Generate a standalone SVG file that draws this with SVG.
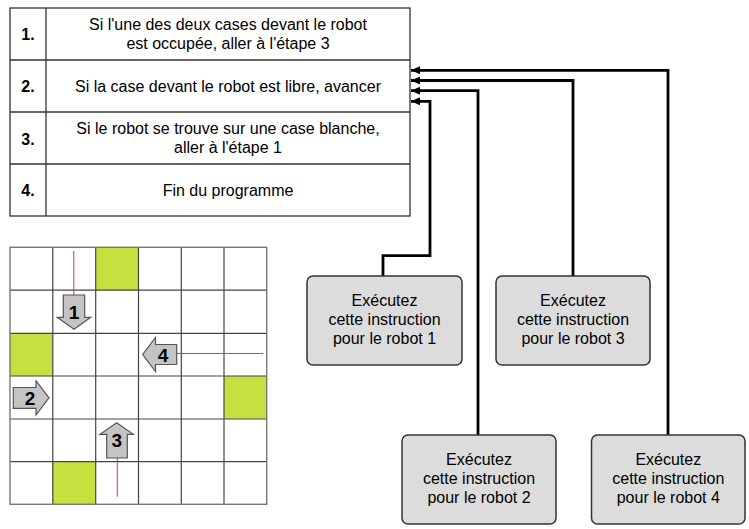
<svg xmlns="http://www.w3.org/2000/svg" width="749" height="529" viewBox="0 0 749 529">
<defs>
<style>
text{font-family:"Liberation Sans",Arial,sans-serif;font-size:16px;fill:#000}
.c{text-anchor:middle}
.b{font-weight:bold}
.tbl{fill:#fff;stroke:#333;stroke-width:1.3}
.box{fill:#dcdcdc;stroke:#333;stroke-width:1.5}
.con{fill:none;stroke:#000;stroke-width:2.8}
.gl{stroke:#444;stroke-width:1.2}
.go{fill:none;stroke:#777;stroke-width:1.4}
.green{fill:#c6e03f}
.rob{fill:#c4c4c4;stroke:#555;stroke-width:1.2}
.red{stroke:#ff2a2a;stroke-width:1}
.num{font-weight:bold;font-size:19px;text-anchor:middle}
</style>
<marker id="ah" markerUnits="userSpaceOnUse" markerWidth="10" markerHeight="10" viewBox="0 0 10 10" refX="9" refY="5" orient="auto">
<path d="M0,1 L9,5 L0,9 Z" fill="#000"/>
</marker>
</defs>

<g id="table">
<rect class="tbl" x="10" y="8" width="400" height="208"/>
<line class="tbl" x1="46" y1="8" x2="46" y2="216"/>
<line class="tbl" x1="10" y1="60" x2="410" y2="60"/>
<line class="tbl" x1="10" y1="112" x2="410" y2="112"/>
<line class="tbl" x1="10" y1="164" x2="410" y2="164"/>
<text class="b c" x="28" y="40">1.</text>
<text class="c" x="228" y="30">Si l'une des deux cases devant le robot</text>
<text class="c" x="228" y="49">est occupée, aller à l'étape 3</text>
<text class="b c" x="28" y="92">2.</text>
<text class="c" x="228" y="92">Si la case devant le robot est libre, avancer</text>
<text class="b c" x="28" y="145">3.</text>
<text class="c" x="228" y="134">Si le robot se trouve sur une case blanche,</text>
<text class="c" x="228" y="153">aller à l'étape 1</text>
<text class="b c" x="28" y="196">4.</text>
<text class="c" x="228" y="196">Fin du programme</text>
</g>

<g id="grid">
<rect class="green" x="95.7" y="247.3" width="42.8" height="42.8"/>
<rect class="green" x="10" y="333.3" width="42.8" height="42.8"/>
<rect class="green" x="224" y="376" width="42.8" height="42.8"/>
<rect class="green" x="52.8" y="461.7" width="42.8" height="42.8"/>
<line class="gl" x1="52.8" y1="247.3" x2="52.8" y2="504.3"/>
<line class="gl" x1="95.7" y1="247.3" x2="95.7" y2="504.3"/>
<line class="gl" x1="138.5" y1="247.3" x2="138.5" y2="504.3"/>
<line class="gl" x1="181.3" y1="247.3" x2="181.3" y2="504.3"/>
<line class="gl" x1="224" y1="247.3" x2="224" y2="504.3"/>
<line class="gl" x1="10" y1="290.2" x2="266.7" y2="290.2"/>
<line class="gl" x1="10" y1="333.3" x2="266.7" y2="333.3"/>
<line class="gl" x1="10" y1="376" x2="266.7" y2="376"/>
<line class="gl" x1="10" y1="419" x2="266.7" y2="419"/>
<line class="gl" x1="10" y1="461.7" x2="266.7" y2="461.7"/>
<rect class="go" x="10" y="247.3" width="256.7" height="257"/>
<line class="red" x1="73.8" y1="251" x2="73.8" y2="295"/>
<line class="red" x1="176.7" y1="353.5" x2="263.3" y2="353.5"/>
<line class="red" x1="117.3" y1="458" x2="117.3" y2="496.7"/>
</g>

<g id="robot1">
<path class="rob" d="M63.3,295 H84.7 V317.3 H90.7 L74,329.3 L57.3,317.3 H63.3 Z"/>
<text class="num" x="74" y="319">1</text>
</g>
<g id="robot2">
<path class="rob" d="M13.3,387.5 H36 V380.7 L49,397.8 L36,415 V408.3 H13.3 Z"/>
<text class="num" x="30" y="405">2</text>
</g>
<g id="robot3">
<path class="rob" d="M106.7,458 V434.3 H100 L116.7,422.7 L133.3,434.3 H127.3 V458 Z"/>
<text class="num" x="116.7" y="447">3</text>
</g>
<g id="robot4">
<path class="rob" d="M176.7,344.5 H155.5 V337.5 L142.7,354.5 L155.5,371.5 V364.5 H176.7 Z"/>
<text class="num" x="163" y="362">4</text>
</g>

<g id="connectors">
<path class="con" d="M383,276 V255.7 H430 V101.3 H411" marker-end="url(#ah)"/>
<path class="con" d="M478,435 V90.7 H411" marker-end="url(#ah)"/>
<path class="con" d="M573,276 V80.5 H411" marker-end="url(#ah)"/>
<path class="con" d="M668,435 V70.3 H411" marker-end="url(#ah)"/>
</g>

<g id="box1">
<rect class="box" x="307" y="276" width="155" height="89" rx="6"/>
<text class="c" x="384.5" y="306">Exécutez</text>
<text class="c" x="384.5" y="325">cette instruction</text>
<text class="c" x="384.5" y="344">pour le robot 1</text>
</g>
<g id="box2">
<rect class="box" x="402" y="435" width="154" height="89" rx="6"/>
<text class="c" x="479" y="465">Exécutez</text>
<text class="c" x="479" y="484">cette instruction</text>
<text class="c" x="479" y="503">pour le robot 2</text>
</g>
<g id="box3">
<rect class="box" x="496" y="276" width="154" height="89" rx="6"/>
<text class="c" x="573" y="306">Exécutez</text>
<text class="c" x="573" y="325">cette instruction</text>
<text class="c" x="573" y="344">pour le robot 3</text>
</g>
<g id="box4">
<rect class="box" x="591.5" y="435" width="153.5" height="89" rx="6"/>
<text class="c" x="668.3" y="465">Exécutez</text>
<text class="c" x="668.3" y="484">cette instruction</text>
<text class="c" x="668.3" y="503">pour le robot 4</text>
</g>
</svg>
